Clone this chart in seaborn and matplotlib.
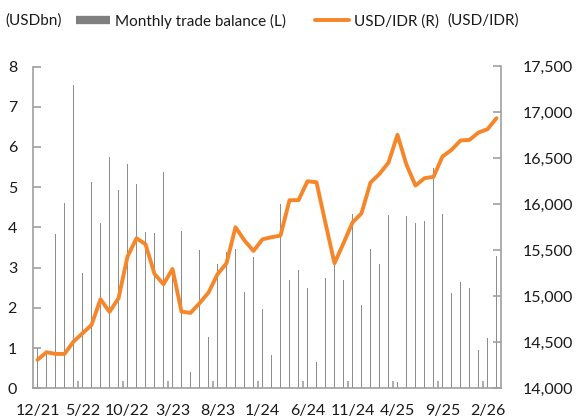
import numpy as np
import pandas as pd
import matplotlib
matplotlib.use("Agg")
import matplotlib.pyplot as plt
from matplotlib.lines import Line2D
from matplotlib.ticker import FuncFormatter, FixedLocator
import seaborn as sns

months = ["12/21", "1/22", "2/22", "3/22", "4/22", "5/22", "6/22", "7/22", "8/22", "9/22",
          "10/22", "11/22", "12/22", "1/23", "2/23", "3/23", "4/23", "5/23", "6/23", "7/23",
          "8/23", "9/23", "10/23", "11/23", "12/23", "1/24", "2/24", "3/24", "4/24", "5/24",
          "6/24", "7/24", "8/24", "9/24", "10/24", "11/24", "12/24", "1/25", "2/25", "3/25",
          "4/25", "5/25", "6/25", "7/25", "8/25", "9/25", "10/25", "11/25", "12/25", "1/26",
          "2/26", "3/26"]

trade_balance = [1.01, 0.93, 3.83, 4.60, 7.55, 2.86, 5.12, 4.10, 5.75, 4.93,
                 5.57, 5.07, 3.89, 3.86, 5.37, 2.90, 3.91, 0.41, 3.43, 1.28,
                 3.10, 3.39, 3.46, 2.40, 3.27, 1.97, 0.82, 4.59, 2.69, 2.93,
                 2.50, 0.65, 2.74, 3.10, 2.69, 4.33, 2.07, 3.47, 3.08, 4.31,
                 0.15, 4.29, 4.10, 4.15, 5.48, 4.34, 2.38, 2.64, 2.50, 0.94,
                 1.26, 3.30]

usd_idr = [14310, 14392, 14374, 14374, 14508, 14598, 14689, 14968, 14831, 14979,
           15433, 15632, 15567, 15244, 15132, 15298, 14834, 14820, 14925, 15041,
           15240, 15360, 15752, 15607, 15494, 15621, 15643, 15661, 16046, 16046,
           16252, 16241, 15795, 15360, 15578, 15803, 15904, 16238, 16332, 16455,
           16757, 16430, 16205, 16285, 16300, 16521, 16593, 16695, 16702, 16782,
           16818, 16938]

left_ticks = [0, 1, 2, 3, 4, 5, 6, 7, 8]
right_ticks = [14000, 14500, 15000, 15500, 16000, 16500, 17000, 17500]

df = pd.DataFrame({"month": months, "trade": trade_balance, "idr": usd_idr})
df["pos"] = np.arange(len(df))

sns.set_theme(style="white")
plt.rcParams["font.family"] = ["Lato", "DejaVu Sans"]
FS = 11.5
LFS = 11
TXT = "#1a1a1a"
AX = "#a0a0a0"
BAR = "#8c8c8c"
ORANGE = "#F5862A"

fig = plt.figure(figsize=(5.77, 4.18), dpi=100)
ax = fig.add_axes([33/577, 1 - 388.3/418, (501-33)/577, (388.3-66.5)/418])

sns.barplot(data=df, x="pos", y="trade", ax=ax, color=BAR, width=0.17,
            saturation=1, native_scale=True, edgecolor="none")
ax.set_xlim(-0.5, len(df) - 0.5)
ax.set_ylim(0, 8)

ax2 = ax.twinx()
sns.lineplot(data=df, x="pos", y="idr", ax=ax2, color=ORANGE, linewidth=2.8,
             sort=False, legend=False)
ax2.set_ylim(14000, 17500)
ax2.set_xlim(-0.5, len(df) - 0.5)

# x ticks: labels every 5 months at category centres, marks between categories
ax.xaxis.set_major_locator(FixedLocator(list(range(0, len(df), 5))))
ax.set_xticklabels(months[::5])
ax.xaxis.set_minor_locator(FixedLocator([i - 0.5 for i in range(5, len(df), 5)]))
ax.tick_params(axis="x", which="major", length=0, pad=11, labelsize=FS, labelcolor=TXT)
ax.tick_params(axis="x", which="minor", length=5, width=1.2, direction="in", color=AX,
               bottom=True)

ax.set_yticks(left_ticks)
ax.tick_params(axis="y", which="major", length=6, width=1.2, direction="in", color=AX,
               pad=11.5, labelsize=FS, labelcolor=TXT, left=True)
ax2.set_yticks(right_ticks)
ax2.yaxis.set_major_formatter(FuncFormatter(lambda v, p: f"{int(v):,}"))
ax2.tick_params(axis="y", which="major", length=6, width=1.2, direction="in", color=AX,
                pad=15.5, labelsize=FS, labelcolor=TXT, right=True)

for a in (ax, ax2):
    a.set_xlabel("")
    a.set_ylabel("")
    a.spines["top"].set_visible(False)
    for s in ("left", "right", "bottom"):
        a.spines[s].set_color(AX)
        a.spines[s].set_linewidth(1.2)
ax.spines["right"].set_visible(False)
ax2.spines["left"].set_visible(False)
ax2.spines["bottom"].set_visible(False)
ax.grid(False)
ax2.grid(False)

handles = [Line2D([0], [0], color="#7f7f7f", lw=6, solid_capstyle="butt"),
           Line2D([0], [0], color=ORANGE, lw=2.8)]
fig.legend(handles, ["Monthly trade balance (L)", "USD/IDR (R)"], ncol=2,
           loc="center left", bbox_to_anchor=(76/577, 1 - 21/418), frameon=False,
           fontsize=LFS, handlelength=2.25, handletextpad=0.3, columnspacing=1.9,
           labelcolor=TXT, borderpad=0, borderaxespad=0)
fig.text(5/577, 1 - 21/418, "(USDbn)", ha="left", va="center", fontsize=LFS, color=TXT)
fig.text(519/577, 1 - 21/418, "(USD/IDR)", ha="right", va="center", fontsize=LFS, color=TXT)

fig.savefig("out.png", dpi=100)
